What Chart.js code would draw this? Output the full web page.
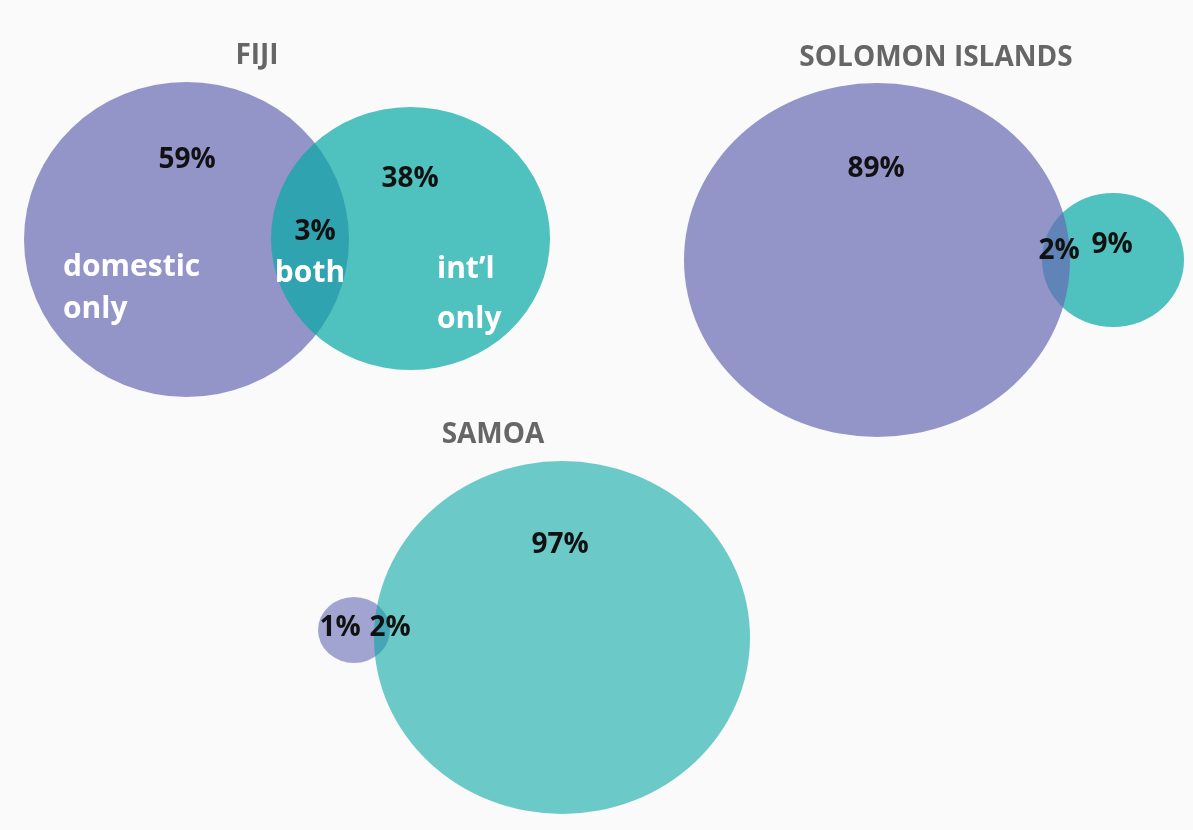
<!DOCTYPE html>
<html>
<head>
<meta charset="utf-8">
<script src="https://cdn.jsdelivr.net/npm/chart.js@4/dist/chart.umd.min.js"></script>
<style>
  body { margin: 0; background: #fafafa; }
  #wrap { width: 1193px; height: 830px; }
</style>
</head>
<body>
<div id="wrap"><canvas id="venn"></canvas></div>
<script>
// Andeler per land (prosent)
const groups = ["FIJI", "SOLOMON ISLANDS", "SAMOA"];
const domesticOnly = [59, 89, 1];
const bothShare = [3, 2, 2];
const intlOnly = [38, 9, 97];

// Plassering av sirklene, i aksenheter (1 enhet = 1 px)
const domCircles = [
  { x: 186.5, y: 239.5, rx: 162.5, ry: 157.5 },
  { x: 877, y: 260, rx: 193, ry: 177 },
  { x: 354, y: 630, rx: 36, ry: 33 },
];
const intlCircles = [
  { x: 410.5, y: 238.5, rx: 139.5, ry: 131.5 },
  { x: 1113, y: 260, rx: 71, ry: 67 },
  { x: 562, y: 637.5, rx: 188, ry: 176.5 },
];
// hvilken sirkel ligger øverst
const frontCircle = ["intl", "dom", "intl"];

const domColors = ["rgba(102,106,180,0.7)", "rgba(102,106,180,0.7)", "rgba(102,106,180,0.6)"];
const intlColors = ["rgba(6,168,165,0.7)", "rgba(6,168,165,0.7)", "rgba(6,168,165,0.59)"];

// tekstplassering (grunnlinje)
const titlePos = [{ x: 257, y: 64 }, { x: 936, y: 66 }, { x: 493, y: 443 }];
const domPos = [{ x: 187, y: 168 }, { x: 876, y: 177 }, { x: 340, y: 636 }];
const bothPos = [{ x: 315, y: 240 }, { x: 1059, y: 259 }, { x: 390, y: 636 }];
const intlPos = [{ x: 410, y: 187 }, { x: 1112, y: 253 }, { x: 560, y: 553 }];

const FONT = '"Open Sans", "DejaVu Sans", sans-serif';

function buildLabels() {
  const labels = [];
  groups.forEach((g, i) => {
    labels.push({ text: g, ...titlePos[i], color: "#666", size: 28, align: "center" });
    labels.push({ text: domesticOnly[i] + "%", ...domPos[i], color: "#111", size: 28, align: "center" });
    labels.push({ text: bothShare[i] + "%", ...bothPos[i], color: "#111", size: 28, align: "center" });
    labels.push({ text: intlOnly[i] + "%", ...intlPos[i], color: "#111", size: 28, align: "center" });
  });
  // forklaringer i Fiji-diagrammet
  labels.push({ text: "domestic", x: 63, y: 276, color: "#fff", size: 30, align: "left" });
  labels.push({ text: "only", x: 63, y: 318, color: "#fff", size: 30, align: "left" });
  labels.push({ text: "both", x: 310, y: 282, color: "#fff", size: 30, align: "center" });
  labels.push({ text: "int\u2019l", x: 437, y: 278, color: "#fff", size: 30, align: "left" });
  labels.push({ text: "only", x: 437, y: 328, color: "#fff", size: 30, align: "left" });
  return labels;
}

function ellipse(ctx, chart, c, color) {
  const xs = chart.scales.x, ys = chart.scales.y;
  const cx = xs.getPixelForValue(c.x), cy = ys.getPixelForValue(c.y);
  const rx = Math.abs(xs.getPixelForValue(c.x + c.rx) - cx);
  const ry = Math.abs(ys.getPixelForValue(c.y + c.ry) - cy);
  ctx.beginPath();
  ctx.ellipse(cx, cy, rx, ry, 0, 0, Math.PI * 2);
  ctx.fillStyle = color;
  ctx.fill();
}

const vennPlugin = {
  id: "venn",
  beforeDatasetsDraw(chart) {
    const ctx = chart.ctx;
    ctx.save();
    groups.forEach((g, i) => {
      if (frontCircle[i] === "intl") {
        ellipse(ctx, chart, domCircles[i], domColors[i]);
        ellipse(ctx, chart, intlCircles[i], intlColors[i]);
      } else {
        ellipse(ctx, chart, intlCircles[i], intlColors[i]);
        ellipse(ctx, chart, domCircles[i], domColors[i]);
      }
    });
    ctx.restore();
  },
  afterDatasetsDraw(chart) {
    const ctx = chart.ctx;
    const xs = chart.scales.x, ys = chart.scales.y;
    ctx.save();
    ctx.textBaseline = "alphabetic";
    buildLabels().forEach((l) => {
      ctx.font = "bold " + l.size + "px " + FONT;
      ctx.fillStyle = l.color;
      ctx.textAlign = l.align;
      ctx.fillText(l.text, xs.getPixelForValue(l.x), ys.getPixelForValue(l.y));
    });
    ctx.restore();
  },
};

new Chart(document.getElementById("venn"), {
  type: "scatter",
  data: {
    datasets: [
      { label: "domestic", data: domCircles.map((c) => ({ x: c.x, y: c.y })), pointRadius: 0 },
      { label: "int'l", data: intlCircles.map((c) => ({ x: c.x, y: c.y })), pointRadius: 0 },
    ],
  },
  options: {
    responsive: true,
    maintainAspectRatio: false,
    animation: false,
    events: [],
    layout: { padding: 0 },
    plugins: { legend: { display: false }, tooltip: { enabled: false } },
    scales: {
      x: { type: "linear", min: 0, max: 1193, display: false },
      y: { type: "linear", min: 0, max: 830, reverse: true, display: false },
    },
  },
  plugins: [vennPlugin],
});
</script>
</body>
</html>
